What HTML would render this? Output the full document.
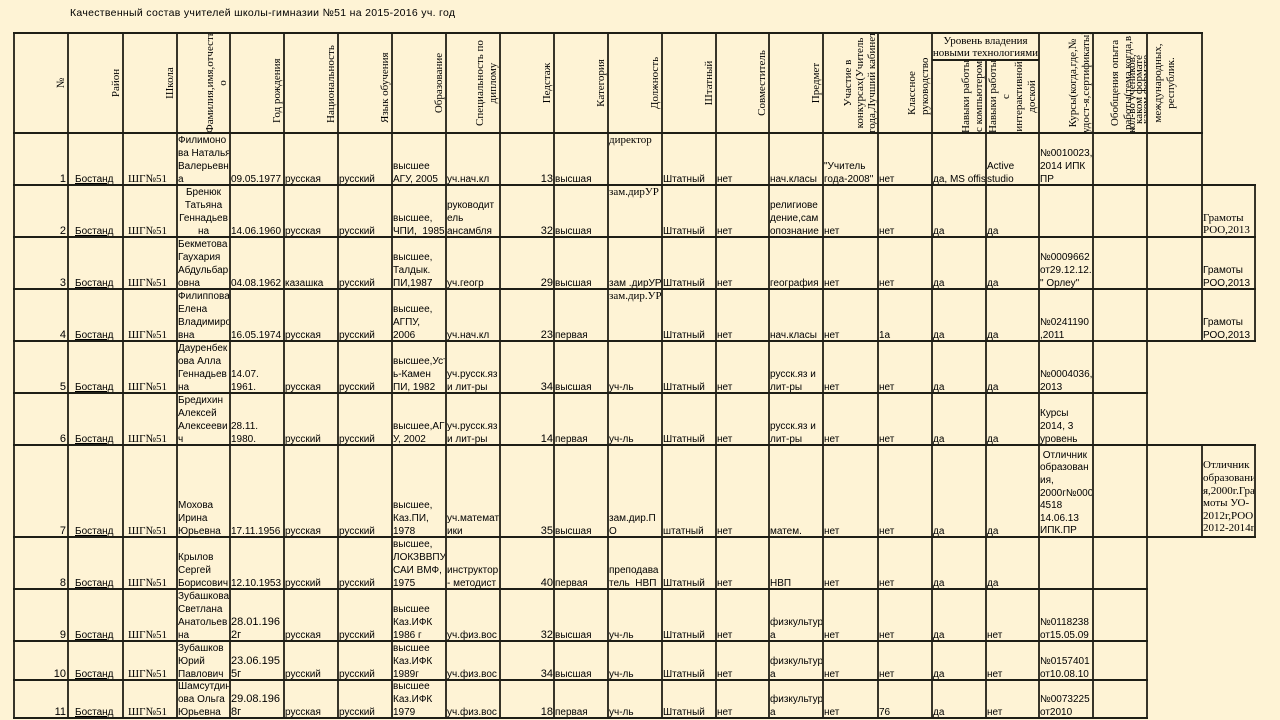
<!DOCTYPE html>
<html><head><meta charset="utf-8"><style>
*{box-sizing:border-box}
body{margin:0;width:1280px;height:720px;overflow:hidden;position:relative;background:#FEF3D5;font-family:"Liberation Sans",sans-serif;font-size:10px;color:#000}
.r{position:absolute;left:0;width:1280px}
.r>div{position:absolute;bottom:-1px;line-height:13px;white-space:nowrap;overflow:hidden}
.k0{left:15px;width:51px;text-align:right;font-size:11px}
.k1{left:75px;width:48px;text-decoration:underline}
.k2{left:128px;width:49px;font-family:"Liberation Serif",serif;font-size:11px}
.k3{left:178px;width:51px}
.k4{left:231px;width:52px}
.k5{left:285px;width:52px}
.k6{left:339px;width:52px}
.k7{left:393px;width:52px}
.k8{left:447px;width:52px}
.k9{left:501px;width:52px;text-align:right;font-size:11px}
.k10{left:555px;width:52px}
.k11{left:609px;width:52px}
.k12{left:663px;width:52px}
.k13{left:717px;width:51px}
.k14{left:770px;width:52px}
.k15{left:824px;width:53px}
.k16{left:879px;width:52px}
.k17{left:933px;width:52px}
.k18{left:987px;width:51px}
.k19{left:1040px;width:52px}
.k20{left:1094px;width:52px}
.k21{left:1148px;width:53px}
.k22{left:1203px;width:51px}
.r>.tp{top:1px;bottom:auto;font-family:"Liberation Serif",serif;font-size:11px;line-height:12px}
.r>.sf{font-family:"Liberation Serif",serif;font-size:11px;line-height:12px}
.ct{text-align:center}
.d11{font-size:11px}
.hd{position:absolute;top:133px;width:100px;transform-origin:0 0;transform:rotate(-90deg);font-family:"Liberation Serif",serif;font-size:11px;line-height:13px;text-align:center;overflow:hidden;display:flex;flex-direction:column;justify-content:flex-end;white-space:nowrap}
.hl{text-align:left;padding-left:10px}
</style></head><body>

<svg style="position:absolute;left:0;top:0" width="1280" height="30"><text x="70" y="16" font-family="Liberation Sans, sans-serif" font-size="10.5" textLength="385" lengthAdjust="spacing" fill="#000">Качественный состав учителей школы-гимназии №51 на 2015-2016 уч. год</text></svg>

<!-- header -->
<div class="hd" style="left:14px;height:54px">№</div>
<div class="hd" style="left:68px;height:55px">Район</div>
<div class="hd" style="left:123px;height:54px">Школа</div>
<div class="hd" style="left:177px;height:53px">Фамилия,имя,отчеств<br>о</div>
<div class="hd hl" style="left:230px;height:54px">Год рождения</div>
<div class="hd hl" style="left:284px;height:54px">Национальность</div>
<div class="hd hl" style="left:338px;height:54px">Язык обучения</div>
<div class="hd" style="left:392px;height:54px">Образование</div>
<div class="hd" style="left:446px;height:54px">Специальность по<br>диплому</div>
<div class="hd" style="left:500px;height:54px">Педстаж</div>
<div class="hd" style="left:554px;height:54px">Категория</div>
<div class="hd" style="left:608px;height:54px">Должность</div>
<div class="hd" style="left:662px;height:54px">Штатный</div>
<div class="hd" style="left:716px;height:53px">Совместитель</div>
<div class="hd" style="left:769px;height:54px">Предмет</div>
<div class="hd" style="left:823px;height:55px;line-height:12px">Участие в<br>конкурсах(Учитель<br>года,Лучший кабинет</div>
<div class="hd" style="left:878px;height:54px;text-align:left;padding-left:18px">Классное<br>руководство</div>
<div style="position:absolute;left:932px;top:35px;width:107px;text-align:center;font-family:'Liberation Serif',serif;font-size:11px;line-height:12px;white-space:nowrap;overflow:hidden">Уровень владения<br>новыми технологиями</div>
<div class="hd" style="left:932px;height:54px;width:73px">Навыки работы<br>с компьютером</div>
<div class="hd" style="left:986px;height:53px;width:73px">Навыки работы<br>с<br>интерактивной<br>доской</div>
<div class="hd" style="left:1039px;height:54px">Курсы(когда,где,№<br>удост-я,сертификаты)</div>
<div class="hd" style="left:1093px;height:54px;justify-content:flex-start;padding-top:16px">Обобщения опыта<br>работы(тема,когда,в</div>
<div class="hd" style="left:1093px;height:54px;justify-content:flex-start;padding-top:36px;text-align:right;line-height:7px;padding-right:22px">кол-во учеников,<br>каком формате<br>каком формате</div>
<div class="hd" style="left:1147px;height:55px;justify-content:flex-start;padding-top:5px">международных,<br>республик.</div>

<!-- row 1 -->
<div class="r" style="top:133px;height:52px">
<div class="k0">1</div><div class="k1">Бостанд</div><div class="k2">ШГ№51</div>
<div class="k3">Филимоно<br>ва Наталья<br>Валерьевн<br>а</div>
<div class="k4">09.05.1977</div><div class="k5">русская</div><div class="k6">русский</div>
<div class="k7">высшее<br>АГУ, 2005</div><div class="k8">уч.нач.кл</div><div class="k9">13</div>
<div class="k10">высшая</div><div class="k11 tp">директор</div><div class="k12">Штатный</div>
<div class="k13">нет</div><div class="k14">нач.класы</div><div class="k15">"Учитель<br>года-2008"</div>
<div class="k16">нет</div><div class="k17">да, MS offis</div><div class="k18">Active<br>studio</div>
<div class="k19">№0010023,<br>2014 ИПК<br>ПР</div>
</div>

<!-- row 2 -->
<div class="r" style="top:185px;height:52px">
<div class="k0">2</div><div class="k1">Бостанд</div><div class="k2">ШГ№51</div>
<div class="k3 ct">Бренюк<br>Татьяна<br>Геннадьев<br>на</div>
<div class="k4">14.06.1960</div><div class="k5">русская</div><div class="k6">русский</div>
<div class="k7">высшее,<br>ЧПИ,&nbsp; 1985</div><div class="k8">руководит<br>ель<br>ансамбля</div><div class="k9">32</div>
<div class="k10">высшая</div><div class="k11 tp">зам.дирУР</div><div class="k12">Штатный</div>
<div class="k13">нет</div><div class="k14">религиове<br>дение,сам<br>опознание</div><div class="k15">нет</div>
<div class="k16">нет</div><div class="k17">да</div><div class="k18">да</div>
<div class="k22 sf" style="bottom:1px">Грамоты<br>РОО,2013</div>
</div>

<!-- row 3 -->
<div class="r" style="top:237px;height:52px">
<div class="k0">3</div><div class="k1">Бостанд</div><div class="k2">ШГ№51</div>
<div class="k3">Бекметова<br>Гаухария<br>Абдульбар<br>овна</div>
<div class="k4">04.08.1962</div><div class="k5">казашка</div><div class="k6">русский</div>
<div class="k7">высшее,<br>Талдык.<br>ПИ,1987</div><div class="k8">уч.геогр</div><div class="k9">29</div>
<div class="k10">высшая</div><div class="k11">зам .дирУР</div><div class="k12">Штатный</div>
<div class="k13">нет</div><div class="k14">география</div><div class="k15">нет</div>
<div class="k16">нет</div><div class="k17">да</div><div class="k18">да</div>
<div class="k19">№0009662<br>от29.12.12.<br>" Орлеу"</div>
<div class="k22">Грамоты<br>РОО,2013</div>
</div>

<!-- row 4 -->
<div class="r" style="top:289px;height:52px">
<div class="k0">4</div><div class="k1">Бостанд</div><div class="k2">ШГ№51</div>
<div class="k3">Филиппова<br>Елена<br>Владимиро<br>вна</div>
<div class="k4">16.05.1974</div><div class="k5">русская</div><div class="k6">русский</div>
<div class="k7">высшее,<br>АГПУ,<br>2006</div><div class="k8">уч.нач.кл</div><div class="k9">23</div>
<div class="k10">первая</div><div class="k11 tp">зам.дир.УР</div><div class="k12">Штатный</div>
<div class="k13">нет</div><div class="k14">нач.класы</div><div class="k15">нет</div>
<div class="k16">1а</div><div class="k17">да</div><div class="k18">да</div>
<div class="k19">№0241190<br>,2011</div>
<div class="k22">Грамоты<br>РОО,2013</div>
</div>

<!-- row 5 -->
<div class="r" style="top:341px;height:52px">
<div class="k0">5</div><div class="k1">Бостанд</div><div class="k2">ШГ№51</div>
<div class="k3">Дауренбек<br>ова Алла<br>Геннадьев<br>на</div>
<div class="k4">14.07.<br>1961.</div><div class="k5">русская</div><div class="k6">русский</div>
<div class="k7">высшее,Усть<br>ь-Камен<br>ПИ, 1982</div><div class="k8">уч.русск.яз<br>и лит-ры</div><div class="k9">34</div>
<div class="k10">высшая</div><div class="k11">уч-ль</div><div class="k12">Штатный</div>
<div class="k13">нет</div><div class="k14">русск.яз и<br>лит-ры</div><div class="k15">нет</div>
<div class="k16">нет</div><div class="k17">да</div><div class="k18">да</div>
<div class="k19">№0004036,<br>2013</div>
</div>

<!-- row 6 -->
<div class="r" style="top:393px;height:52px">
<div class="k0">6</div><div class="k1">Бостанд</div><div class="k2">ШГ№51</div>
<div class="k3">Бредихин<br>Алексей<br>Алексееви<br>ч</div>
<div class="k4">28.11.<br>1980.</div><div class="k5">русский</div><div class="k6">русский</div>
<div class="k7">высшее,АГ<br>У, 2002</div><div class="k8">уч.русск.яз<br>и лит-ры</div><div class="k9">14</div>
<div class="k10">первая</div><div class="k11">уч-ль</div><div class="k12">Штатный</div>
<div class="k13">нет</div><div class="k14">русск.яз и<br>лит-ры</div><div class="k15">нет</div>
<div class="k16">нет</div><div class="k17">да</div><div class="k18">да</div>
<div class="k19">Курсы<br>2014, 3<br>уровень</div>
</div>

<!-- row 7 -->
<div class="r" style="top:445px;height:92px">
<div class="k0">7</div><div class="k1">Бостанд</div><div class="k2">ШГ№51</div>
<div class="k3">Мохова<br>Ирина<br>Юрьевна</div>
<div class="k4">17.11.1956</div><div class="k5">русская</div><div class="k6">русский</div>
<div class="k7">высшее,<br>Каз.ПИ,<br>1978</div><div class="k8">уч.математ<br>ики</div><div class="k9">35</div>
<div class="k10">высшая</div><div class="k11">зам.дир.П<br>О</div><div class="k12">штатный</div>
<div class="k13">нет</div><div class="k14">матем.</div><div class="k15">нет</div>
<div class="k16">нет</div><div class="k17">да</div><div class="k18">да</div>
<div class="k19" style="line-height:12.6px">&nbsp;Отличник<br>образован<br>ия,<br>2000г№000<br>4518<br>14.06.13<br>ИПК.ПР</div>
<div class="k22 sf" style="bottom:2px;line-height:12.6px">Отличник<br>образовани<br>я,2000г.Гра<br>моты УО-<br>2012г,РОО<br>2012-2014г</div>
</div>

<!-- row 8 -->
<div class="r" style="top:537px;height:52px">
<div class="k0">8</div><div class="k1">Бостанд</div><div class="k2">ШГ№51</div>
<div class="k3">Крылов<br>Сергей<br>Борисович</div>
<div class="k4">12.10.1953</div><div class="k5">русский</div><div class="k6">русский</div>
<div class="k7">высшее,<br>ЛОКЗВВПУ<br>САИ ВМФ,<br>1975</div><div class="k8">инструктор<br>- методист</div><div class="k9">40</div>
<div class="k10">первая</div><div class="k11">преподава<br>тель&nbsp; НВП</div><div class="k12">Штатный</div>
<div class="k13">нет</div><div class="k14">НВП</div><div class="k15">нет</div>
<div class="k16">нет</div><div class="k17">да</div><div class="k18">да</div>
</div>

<!-- row 9 -->
<div class="r" style="top:589px;height:52px">
<div class="k0">9</div><div class="k1">Бостанд</div><div class="k2">ШГ№51</div>
<div class="k3">Зубашкова<br>Светлана<br>Анатольев<br>на</div>
<div class="k4 d11">28.01.196<br>2г</div><div class="k5">русская</div><div class="k6">русский</div>
<div class="k7">высшее<br>Каз.ИФК<br>1986 г</div><div class="k8">уч.физ.вос</div><div class="k9">32</div>
<div class="k10">высшая</div><div class="k11">уч-ль</div><div class="k12">Штатный</div>
<div class="k13">нет</div><div class="k14">физкультур<br>а</div><div class="k15">нет</div>
<div class="k16">нет</div><div class="k17">да</div><div class="k18">нет</div>
<div class="k19">№0118238<br>от15.05.09</div>
</div>

<!-- row 10 -->
<div class="r" style="top:641px;height:39px">
<div class="k0">10</div><div class="k1">Бостанд</div><div class="k2">ШГ№51</div>
<div class="k3">Зубашков<br>Юрий<br>Павлович</div>
<div class="k4 d11">23.06.195<br>5г</div><div class="k5">русский</div><div class="k6">русский</div>
<div class="k7">высшее<br>Каз.ИФК<br>1989г</div><div class="k8">уч.физ.вос</div><div class="k9">34</div>
<div class="k10">высшая</div><div class="k11">уч-ль</div><div class="k12">Штатный</div>
<div class="k13">нет</div><div class="k14">физкультур<br>а</div><div class="k15">нет</div>
<div class="k16">нет</div><div class="k17">да</div><div class="k18">нет</div>
<div class="k19">№0157401<br>от10.08.10</div>
</div>

<!-- row 11 -->
<div class="r" style="top:680px;height:38px">
<div class="k0">11</div><div class="k1">Бостанд</div><div class="k2">ШГ№51</div>
<div class="k3">Шамсутдин<br>ова Ольга<br>Юрьевна</div>
<div class="k4 d11">29.08.196<br>8г</div><div class="k5">русская</div><div class="k6">русский</div>
<div class="k7">высшее<br>Каз.ИФК<br>1979</div><div class="k8">уч.физ.вос</div><div class="k9">18</div>
<div class="k10">первая</div><div class="k11">уч-ль</div><div class="k12">Штатный</div>
<div class="k13">нет</div><div class="k14">физкультур<br>а</div><div class="k15">нет</div>
<div class="k16">76</div><div class="k17">да</div><div class="k18">нет</div>
<div class="k19">№0073225<br>от2010</div>
</div>

<svg style="position:absolute;left:0;top:0" width="1280" height="720">
<path fill="none" stroke="#38352a" stroke-width="2" d="M14 33V718 M68 33V718 M123 33V718 M177 33V718 M230 33V718 M284 33V718 M338 33V718 M392 33V718 M446 33V718 M500 33V718 M554 33V718 M608 33V718 M662 33V718 M716 33V718 M769 33V718 M823 33V718 M878 33V718 M932 33V718 M986 60V718 M1039 33V718 M1093 33V718 M1147 33V718 M1202 33V341 M1202 445V537 M1255 185V341 M1255 445V537"/>
<path fill="none" stroke="#1e1e16" stroke-width="2" d="M13 33H1203 M932 60H1039 M13 133H1203 M13 185H1256 M13 237H1256 M13 289H1256 M13 341H1256 M13 393H1148 M13 445H1256 M13 537H1256 M13 589H1148 M13 641H1148 M13 680H1148 M13 718H1148"/>
</svg>
</body></html>
